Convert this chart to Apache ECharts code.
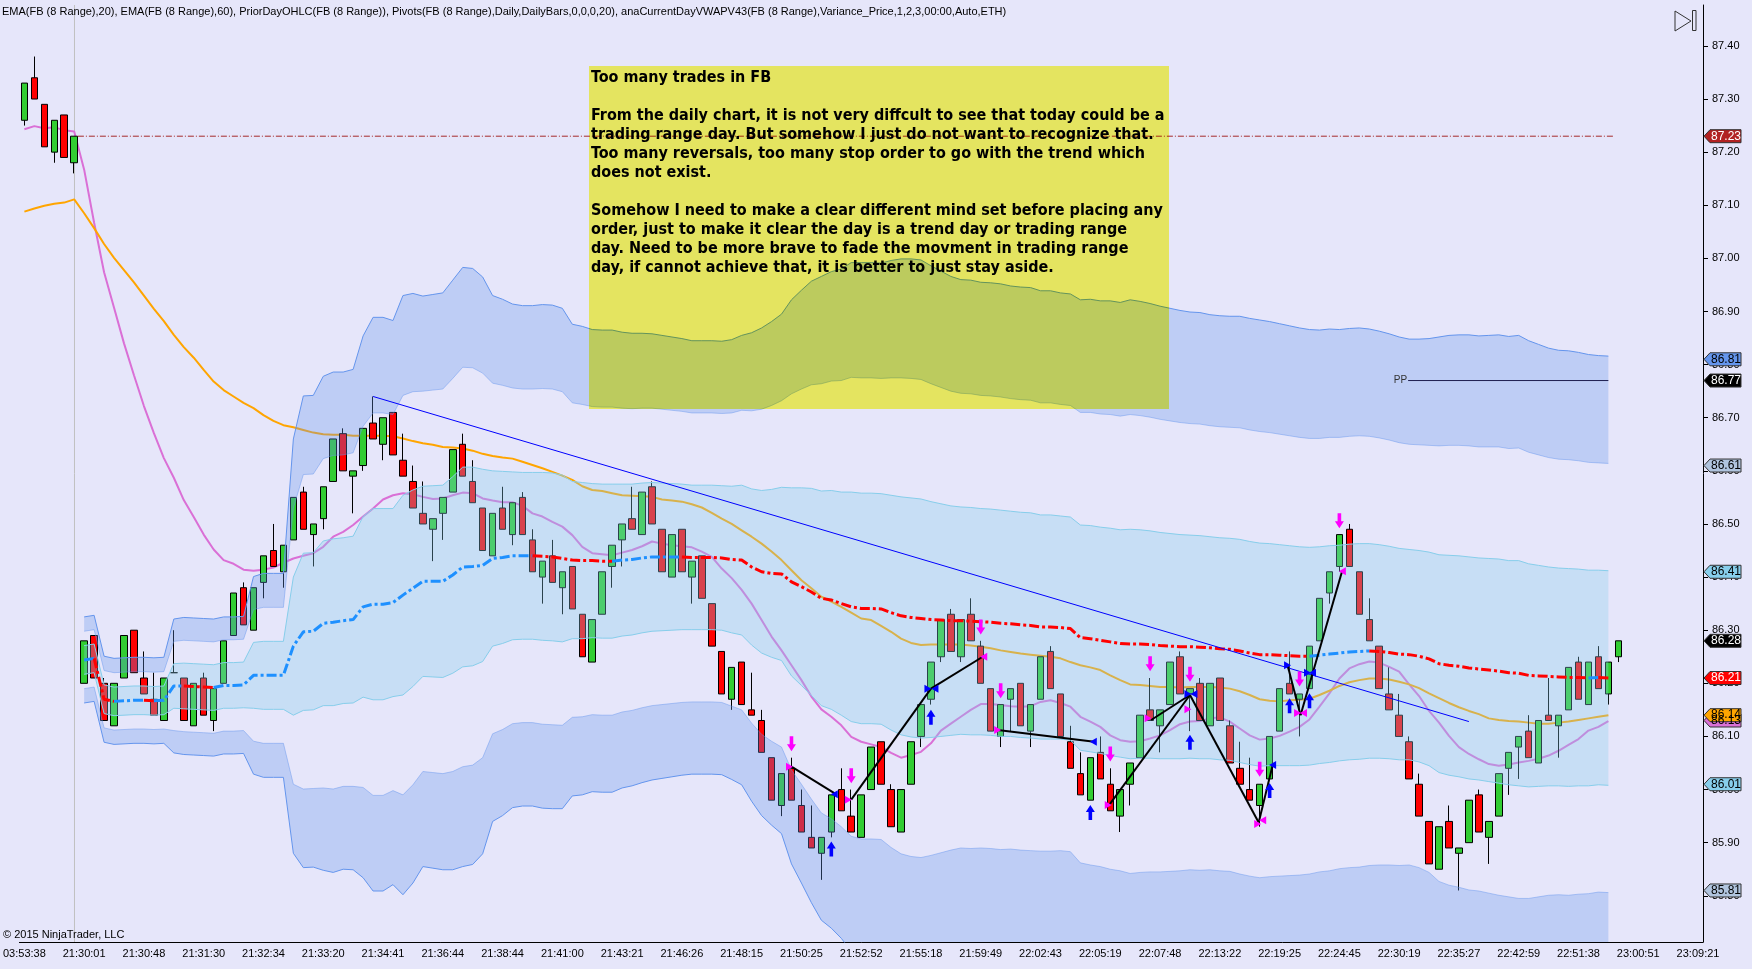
<!DOCTYPE html>
<html>
<head>
<meta charset="UTF-8">
<title>FB (8 Range)</title>
<style>
  html, body { margin: 0; padding: 0; background: #E6E6FA; }
  #chart { width: 1752px; height: 969px; }
</style>
</head>
<body>
<div id="chart"></div>
<script src="https://cdn.jsdelivr.net/npm/echarts@6/dist/echarts.min.js"></script>
<script>
// one row per 8-range bar: open, close, low, high
var ohlc = [
  [87.26,87.33,87.25,87.33],[87.34,87.30,87.30,87.38],[87.29,87.21,87.21,87.29],[87.20,87.26,87.18,87.26],
  [87.27,87.19,87.19,87.27],[87.18,87.23,87.16,87.23],[86.20,86.28,86.20,86.28],[86.29,86.21,86.21,86.29],
  [86.20,86.13,86.13,86.21],[86.12,86.20,86.12,86.20],[86.21,86.29,86.21,86.29],[86.30,86.22,86.22,86.30],
  [86.21,86.18,86.18,86.26],[86.17,86.14,86.14,86.22],[86.13,86.21,86.13,86.21],[86.22,86.22,86.22,86.30],
  [86.21,86.13,86.13,86.21],[86.12,86.20,86.12,86.20],[86.21,86.14,86.14,86.22],[86.13,86.19,86.11,86.19],
  [86.20,86.28,86.20,86.28],[86.29,86.37,86.29,86.37],[86.38,86.31,86.31,86.39],[86.30,86.38,86.30,86.38],
  [86.39,86.44,86.36,86.44],[86.45,86.42,86.42,86.50],[86.41,86.46,86.38,86.46],[86.47,86.55,86.47,86.55],
  [86.56,86.49,86.49,86.57],[86.48,86.50,86.42,86.50],[86.51,86.57,86.49,86.57],[86.58,86.66,86.58,86.66],
  [86.67,86.60,86.60,86.68],[86.59,86.60,86.52,86.60],[86.61,86.68,86.60,86.68],[86.69,86.66,86.66,86.74],
  [86.65,86.70,86.62,86.70],[86.71,86.63,86.63,86.71],[86.62,86.59,86.59,86.67],[86.58,86.53,86.53,86.61],
  [86.52,86.50,86.50,86.58],[86.49,86.51,86.43,86.51],[86.52,86.55,86.47,86.55],[86.56,86.64,86.56,86.64],
  [86.65,86.59,86.59,86.67],[86.58,86.54,86.54,86.62],[86.53,86.45,86.45,86.53],[86.44,86.52,86.44,86.52],
  [86.53,86.49,86.49,86.57],[86.48,86.54,86.46,86.54],[86.55,86.48,86.48,86.56],[86.47,86.41,86.41,86.49],
  [86.40,86.43,86.35,86.43],[86.44,86.39,86.39,86.47],[86.38,86.41,86.33,86.41],[86.42,86.34,86.34,86.42],
  [86.33,86.25,86.25,86.33],[86.24,86.32,86.24,86.32],[86.33,86.41,86.33,86.41],[86.42,86.46,86.38,86.46],
  [86.47,86.50,86.42,86.50],[86.51,86.49,86.49,86.57],[86.48,86.56,86.48,86.56],[86.57,86.50,86.50,86.58],
  [86.49,86.41,86.41,86.49],[86.40,86.48,86.40,86.48],[86.49,86.41,86.41,86.49],[86.40,86.43,86.35,86.43],
  [86.44,86.36,86.36,86.44],[86.35,86.27,86.27,86.35],[86.26,86.18,86.18,86.26],[86.17,86.23,86.15,86.23],
  [86.24,86.16,86.16,86.24],[86.15,86.14,86.14,86.22],[86.13,86.07,86.07,86.15],[86.06,85.98,85.98,86.06],
  [85.97,86.03,85.95,86.03],[86.04,85.98,85.98,86.06],[85.97,85.92,85.92,86.00],[85.91,85.89,85.89,85.97],
  [85.88,85.91,85.83,85.91],[85.92,85.99,85.91,85.99],[86.00,85.96,85.96,86.04],[85.95,85.92,85.92,86.00],
  [85.91,85.99,85.91,85.99],[86.00,86.08,86.00,86.08],[86.09,86.01,86.01,86.09],[86.00,85.93,85.93,86.01],
  [85.92,86.00,85.92,86.00],[86.01,86.09,86.01,86.09],[86.10,86.16,86.08,86.16],[86.17,86.24,86.16,86.24],
  [86.25,86.32,86.24,86.32],[86.33,86.26,86.26,86.34],[86.25,86.32,86.24,86.32],[86.33,86.28,86.28,86.36],
  [86.27,86.20,86.20,86.28],[86.19,86.11,86.11,86.19],[86.10,86.16,86.08,86.16],[86.17,86.19,86.11,86.19],
  [86.20,86.12,86.12,86.20],[86.11,86.16,86.08,86.16],[86.17,86.25,86.17,86.25],[86.26,86.19,86.19,86.27],
  [86.18,86.10,86.10,86.18],[86.09,86.04,86.04,86.12],[86.03,85.99,85.99,86.07],[85.98,86.06,85.98,86.06],
  [86.07,86.02,86.02,86.10],[86.01,85.96,85.96,86.04],[85.95,86.00,85.92,86.00],[86.01,86.05,85.97,86.05],
  [86.06,86.14,86.06,86.14],[86.15,86.13,86.13,86.21],[86.12,86.15,86.07,86.15],[86.16,86.24,86.16,86.24],
  [86.25,86.18,86.18,86.26],[86.18,86.19,86.11,86.19],[86.20,86.13,86.13,86.21],[86.12,86.20,86.12,86.20],
  [86.21,86.13,86.13,86.21],[86.12,86.05,86.05,86.13],[86.04,86.01,86.01,86.09],[86.00,85.98,85.98,86.06],
  [85.97,86.01,85.93,86.01],[86.02,86.10,86.02,86.10],[86.11,86.19,86.11,86.19],[86.20,86.18,86.18,86.26],
  [86.17,86.18,86.10,86.18],[86.19,86.27,86.19,86.27],[86.28,86.36,86.28,86.36],[86.37,86.41,86.35,86.41],
  [86.42,86.48,86.41,86.48],[86.49,86.42,86.42,86.50],[86.41,86.33,86.33,86.41],[86.32,86.28,86.28,86.36],
  [86.27,86.19,86.19,86.27],[86.18,86.15,86.15,86.23],[86.14,86.10,86.10,86.18],[86.09,86.02,86.02,86.10],
  [86.01,85.95,85.95,86.03],[85.94,85.86,85.86,85.94],[85.85,85.93,85.85,85.93],[85.94,85.89,85.89,85.97],
  [85.88,85.89,85.81,85.89],[85.90,85.98,85.90,85.98],[85.99,85.92,85.92,86.00],[85.91,85.94,85.86,85.94],
  [85.95,86.03,85.95,86.03],[86.04,86.07,85.99,86.07],[86.08,86.10,86.02,86.10],[86.11,86.06,86.06,86.14],
  [86.05,86.13,86.05,86.13],[86.14,86.13,86.13,86.21],[86.12,86.14,86.06,86.14],[86.15,86.23,86.15,86.23],
  [86.24,86.17,86.17,86.25],[86.16,86.24,86.16,86.24],[86.25,86.19,86.19,86.27],[86.18,86.24,86.16,86.24],
  [86.25,86.28,86.24,86.28]
];

var ema20 = [
  87.243,87.249,87.245,87.247,87.241,87.239,87.167,87.067,86.974,86.907,86.840,86.780,86.722,86.671,86.624,86.587,
  86.545,86.513,86.480,86.452,86.432,86.425,86.414,86.412,86.414,86.418,86.427,86.435,86.440,86.445,86.457,86.476,
  86.485,86.498,86.514,86.529,86.546,86.554,86.558,86.556,86.551,86.547,86.548,86.554,86.559,86.558,86.548,86.544,
  86.541,86.541,86.534,86.520,86.514,86.504,86.495,86.479,86.457,86.445,86.443,86.441,86.446,86.451,86.458,86.467,
  86.463,86.460,86.458,86.456,86.448,86.438,86.416,86.398,86.376,86.350,86.319,86.288,86.262,86.234,86.206,86.175,
  86.151,86.137,86.121,86.099,86.090,86.085,86.080,86.069,86.060,86.065,86.071,86.087,86.111,86.124,86.137,86.150,
  86.161,86.161,86.159,86.157,86.156,86.157,86.165,86.168,86.163,86.156,86.137,86.128,86.118,86.102,86.093,86.090,
  86.091,86.096,86.102,86.112,86.123,86.128,86.129,86.134,86.136,86.128,86.115,86.102,86.094,86.096,86.101,86.109,
  86.118,86.132,86.156,86.181,86.209,86.228,86.236,86.241,86.239,86.231,86.222,86.198,86.176,86.148,86.126,86.101,
  86.080,86.067,86.057,86.048,86.045,86.047,86.051,86.054,86.058,86.064,86.073,86.084,86.095,86.111,86.118,86.129
];

var ema60 = [
  87.088,87.094,87.099,87.103,87.105,87.111,87.085,87.057,87.027,87.001,86.978,86.955,86.930,86.905,86.882,86.856,
  86.833,86.813,86.790,86.768,86.752,86.740,86.728,86.718,86.705,86.694,86.686,86.682,86.677,86.672,86.669,86.668,
  86.668,86.666,86.666,86.666,86.666,86.665,86.661,86.656,86.652,86.649,86.645,86.644,86.642,86.638,86.632,86.628,
  86.625,86.623,86.617,86.611,86.605,86.598,86.591,86.583,86.571,86.564,86.562,86.558,86.554,86.553,86.552,86.551,
  86.546,86.544,86.542,86.537,86.531,86.521,86.510,86.500,86.488,86.476,86.463,86.448,86.432,86.413,86.394,86.379,
  86.363,86.354,86.344,86.333,86.322,86.319,86.308,86.297,86.284,86.276,86.272,86.273,86.273,86.273,86.273,86.271,
  86.269,86.266,86.262,86.259,86.256,86.254,86.252,86.250,86.247,86.240,86.234,86.230,86.225,86.215,86.206,86.198,
  86.197,86.195,86.193,86.193,86.192,86.193,86.193,86.193,86.192,86.190,86.185,86.178,86.170,86.167,86.166,86.168,
  86.169,86.171,86.178,86.186,86.195,86.202,86.206,86.209,86.209,86.207,86.203,86.198,86.191,86.181,86.172,86.163,
  86.155,86.148,86.142,86.134,86.131,86.129,86.128,86.126,86.124,86.124,86.126,86.128,86.131,86.134,86.137,86.140
];

// session VWAP and its standard deviation, from bar 6 on
var vwapStart = 6;
var vwap = [
  86.244,86.247,86.170,86.166,86.167,86.168,86.168,86.167,86.168,86.195,86.195,86.194,86.193,86.192,86.196,86.196,
  86.197,86.215,86.215,86.215,86.215,86.270,86.297,86.298,86.313,86.315,86.318,86.320,86.344,86.349,86.349,86.352,
  86.366,86.379,86.392,86.392,86.392,86.404,86.419,86.420,86.422,86.435,86.437,86.440,86.440,86.440,86.439,86.438,
  86.435,86.432,86.431,86.431,86.430,86.430,86.432,86.433,86.436,86.438,86.438,86.438,86.438,86.437,86.437,86.437,
  86.436,86.433,86.432,86.419,86.410,86.407,86.406,86.391,86.382,86.372,86.360,86.357,86.350,86.344,86.341,86.341,
  86.340,86.333,86.327,86.324,86.322,86.320,86.319,86.318,86.318,86.317,86.316,86.315,86.313,86.312,86.310,86.309,
  86.306,86.306,86.305,86.303,86.286,86.284,86.281,86.278,86.275,86.274,86.274,86.273,86.271,86.270,86.269,86.269,
  86.268,86.267,86.265,86.264,86.261,86.257,86.254,86.254,86.253,86.252,86.251,86.251,86.253,86.255,86.257,86.259,
  86.260,86.261,86.260,86.258,86.255,86.254,86.251,86.246,86.237,86.234,86.232,86.229,86.227,86.225,86.223,86.220,
  86.219,86.215,86.214,86.213,86.212,86.211,86.211,86.210,86.211,86.210
];
var vwapSd = [
  0.027,0.027,0.027,0.027,0.027,0.027,0.027,0.027,0.027,0.042,0.043,0.043,0.043,0.043,0.043,0.043,
  0.043,0.062,0.064,0.064,0.064,0.130,0.148,0.148,0.155,0.157,0.156,0.157,0.170,0.180,0.180,0.177,
  0.188,0.185,0.179,0.180,0.181,0.185,0.188,0.187,0.181,0.165,0.162,0.158,0.157,0.157,0.158,0.158,
  0.157,0.148,0.147,0.145,0.145,0.145,0.143,0.142,0.141,0.140,0.139,0.138,0.137,0.136,0.136,0.136,
  0.136,0.138,0.141,0.147,0.153,0.158,0.163,0.177,0.186,0.195,0.202,0.206,0.210,0.216,0.217,0.217,
  0.217,0.221,0.224,0.225,0.225,0.222,0.219,0.216,0.214,0.214,0.213,0.213,0.213,0.212,0.212,0.212,
  0.211,0.211,0.210,0.210,0.212,0.213,0.213,0.214,0.214,0.216,0.215,0.214,0.213,0.212,0.211,0.210,
  0.210,0.209,0.209,0.209,0.210,0.210,0.210,0.209,0.208,0.207,0.206,0.205,0.204,0.204,0.203,0.203,
  0.203,0.202,0.201,0.200,0.199,0.198,0.199,0.201,0.205,0.207,0.208,0.209,0.209,0.210,0.211,0.211,
  0.212,0.210,0.208,0.206,0.205,0.205,0.204,0.203,0.202,0.202
];

var timeLabels = [
  '03:53:38','21:30:01','21:30:48','21:31:30','21:32:34','21:33:20','21:34:41','21:36:44','21:38:44','21:41:00',
  '21:43:21','21:46:26','21:48:15','21:50:25','21:52:52','21:55:18','21:59:49','22:02:43','22:05:19','22:07:48',
  '22:13:22','22:19:25','22:24:45','22:30:19','22:35:27','22:42:59','22:51:38','23:00:51','23:09:21'
];
var yTicks = [85.80,85.90,86.00,86.10,86.20,86.30,86.40,86.50,86.60,86.70,86.80,86.90,87.00,87.10,87.20,87.30,87.40];

var priorClose = 87.23;
var pivotPP = 86.77;
var sessionBreak = 5.03;
var trendLine = [[35.0, 86.740], [145.0, 86.128]];
var trades = [
  [[77.0,86.043],[81.5,85.991]], [[83.0,85.981],[91.0,86.190]], [[91.0,86.190],[96.2,86.250]],
  [[97.7,86.112],[107.4,86.090]], [[108.9,85.971],[117.0,86.178]], [[113.1,86.131],[117.0,86.178]],
  [[117.0,86.178],[123.9,85.938]], [[123.9,85.938],[125.3,86.046]], [[126.8,86.234],[128.1,86.140]],
  [[128.1,86.140],[132.3,86.413]]
];
var sellArrows = [[77,86.086],[83,86.026],[96,86.306],[98,86.186],[109,86.067],[113,86.237],[117,86.217],[124,86.038],[128,86.208],[132,86.506]];
var buyArrows = [[81,85.888],[91,86.136],[107,85.957],[117,86.089],[125,85.998],[127,86.158],[129,86.167]];
var sellFillsR = [[76.8,86.043],[82.7,85.981],[97.7,86.112],[108.8,85.971],[112.8,86.134],[116.8,86.151],[123.8,85.935],[127.8,86.144]];
var sellFillsL = [[96.3,86.250],[124.3,85.942],[128.4,86.144],[132.3,86.411]];
var buyFillsR = [[90.7,86.190],[116.8,86.180],[126.8,86.234],[128.8,86.220]];
var buyFillsL = [[81.3,85.991],[91.4,86.190],[107.3,86.090],[117.4,86.180],[125.3,86.046],[129.3,86.220]];

var flagValues = [87.23, 86.81, 86.77, 86.61, 86.41, 86.28, 86.21, 86.13, 86.14, 86.01, 85.81];
var flagFill = ['#B22222','#6495ED','#000000','#B0C4DE','#87CEEB','#000000','#FF0000','#DA70D6','#FFA500','#87CEEB','#B0C4DE'];
var flagInk = ['#fff','#000','#fff','#000','#000','#fff','#fff','#000','#000','#000','#000'];

var titleText = 'EMA(FB (8 Range),20), EMA(FB (8 Range),60), PriorDayOHLC(FB (8 Range)), Pivots(FB (8 Range),Daily,DailyBars,0,0,0,20), anaCurrentDayVWAPV43(FB (8 Range),Variance_Price,1,2,3,00:00,Auto,ETH)';
var noteLines = [
  'Too many trades in FB',
  '',
  'From the daily chart, it is not very diffcult to see that today could be a',
  'trading range day. But somehow I just do not want to recognize that.',
  'Too many reversals, too many stop order to go with the trend which',
  'does not exist.',
  '',
  'Somehow I need to make a clear different mind set before placing any',
  'order, just to make it clear the day is a trend day or trading range',
  'day. Need to be more brave to fade the movment in trading range',
  'day, if cannot achieve that, it is better to just stay aside.'
];

var Y_MIN = 85.713, Y_MAX = 87.477, N_SLOTS = 169;
var FONT = '"Liberation Sans", Arial, sans-serif';

var cats = [];
for (var i = 0; i < N_SLOTS; i++) cats.push(String(i));

function pts(arr, start) {
  return arr.map(function (v, j) { return [j + start, v]; });
}
function plainLine(data, color, width, type, z) {
  return {
    type: 'line', xAxisIndex: 1, data: data, symbol: 'none', silent: true, z: z || 5,
    lineStyle: { color: color, width: width, type: type || 'solid' }
  };
}

var series = [];

series.push({
  type: 'candlestick', xAxisIndex: 0, barWidth: 7, z: 2, silent: true,
  data: ohlc,
  itemStyle: { color: '#32CD32', color0: '#FF0000', borderColor: '#000', borderColor0: '#000', borderWidth: 1 }
});
series.push(plainLine(pts(ema20, 0), '#DA70D6', 2, 'solid', 2));
series.push(plainLine(pts(ema60, 0), '#FFA500', 2, 'solid', 2));

// deviation bands around vwap, k = multiple of sd
function edge(k) {
  return vwap.map(function (v, j) { return [j + vwapStart, +(v + k * vwapSd[j]).toFixed(4)]; });
}
function band(lowK, highK, fill) {
  var lo = edge(lowK), hi = edge(highK);
  series.push({
    type: 'custom', xAxisIndex: 1, silent: true, z: 3, clip: true,
    data: [[vwapStart, vwap[0]]],
    renderItem: function (params, api) {
      var p = [];
      hi.forEach(function (d) { p.push(api.coord(d)); });
      for (var q = lo.length - 1; q >= 0; q--) p.push(api.coord(lo[q]));
      return { type: 'polygon', shape: { points: p }, style: { fill: fill } };
    }
  });
}
band(-3, -2, 'rgba(100,149,237,0.31)');
band(-1, 1, 'rgba(135,206,235,0.32)');
band(2, 3, 'rgba(100,149,237,0.31)');
series.push(plainLine(edge(3), '#6495ED', 1, 'solid', 3));
series.push(plainLine(edge(2), 'rgba(100,149,237,0.45)', 1, 'solid', 3));
series.push(plainLine(edge(1), '#87CEEB', 1, 'solid', 3));
series.push(plainLine(edge(-1), '#87CEEB', 1, 'solid', 3));
series.push(plainLine(edge(-2), 'rgba(100,149,237,0.45)', 1, 'solid', 3));
series.push(plainLine(edge(-3), '#6495ED', 1, 'solid', 3));

// vwap: blue while rising, red while falling
var segColor = [], last = '#1E90FF';
for (var j = 0; j < vwap.length - 1; j++) {
  if (vwap[j + 1] > vwap[j]) last = '#1E90FF';
  else if (vwap[j + 1] < vwap[j]) last = '#FF0000';
  segColor.push(last);
}
var runStart = 0;
for (var j = 1; j <= segColor.length; j++) {
  if (j === segColor.length || segColor[j] !== segColor[runStart]) {
    var d = [];
    for (var k = runStart; k <= j; k++) d.push([k + vwapStart, vwap[k]]);
    series.push(plainLine(d, segColor[runStart], 3, [10, 3, 3, 3], 4));
    runStart = j;
  }
}

series.push(plainLine([[5.37, priorClose], [159.5, priorClose]], '#A52A2A', 1, [6, 2, 1, 2], 4));
series.push(plainLine([[138.9, pivotPP], [159, pivotPP]], '#1E1E50', 1, 'solid', 4));
series.push(plainLine([[sessionBreak, Y_MIN], [sessionBreak, Y_MAX]], '#C0C0C0', 1, 'solid', 1));
series.push(plainLine(trendLine, '#0000FF', 1, 'solid', 5));
trades.forEach(function (t) { series.push(plainLine(t, '#000000', 2, 'solid', 6)); });

var downArrow = 'path://M3,0L7,0L7,8L10,8L5,15L0,8L3,8Z';
var upArrow = 'path://M5,0L10,7L7,7L7,15L3,15L3,7L0,7Z';
function marks(data, symbol, size, color, rotate) {
  return { type: 'scatter', xAxisIndex: 1, data: data, symbol: symbol, symbolSize: size,
    symbolRotate: rotate || 0, silent: true, z: 7, itemStyle: { color: color, opacity: 1 } };
}
series.push(marks(sellArrows, downArrow, [9, 15], '#FF00FF'));
series.push(marks(buyArrows, upArrow, [9, 15], '#0000FF'));
series.push(marks(sellFillsR, 'triangle', [8, 7], '#FF00FF', -90));
series.push(marks(sellFillsL, 'triangle', [8, 7], '#FF00FF', 90));
series.push(marks(buyFillsR, 'triangle', [8, 7], '#0000FF', -90));
series.push(marks(buyFillsL, 'triangle', [8, 7], '#0000FF', 90));

var chart = echarts.init(document.getElementById('chart'), null, { renderer: 'canvas' });
chart.setOption({
  backgroundColor: '#E6E6FA',
  animation: false,
  grid: { left: 13, right: 49, top: 5, bottom: 27 },
  xAxis: [{
    type: 'category', data: cats, boundaryGap: true,
    axisLine: { onZero: false, lineStyle: { color: '#000', width: 1 } },
    axisTick: { interval: 5, alignWithLabel: true, length: 5, lineStyle: { color: '#000' } },
    axisLabel: {
      interval: 5, color: '#000', fontSize: 11, fontFamily: FONT, margin: 6,
      alignMinLabel: 'center', alignMaxLabel: 'center',
      formatter: function (v, idx) { return timeLabels[idx / 6] || ''; }
    },
    splitLine: { show: false }
  }, {
    type: 'value', min: -0.5, max: N_SLOTS - 0.5, show: false,
    axisLine: { onZero: false }
  }],
  yAxis: {
    type: 'value', position: 'right', min: Y_MIN, max: Y_MAX,
    axisLine: { show: true, onZero: false, lineStyle: { color: '#000', width: 1 } },
    axisTick: { show: true, length: 5, customValues: yTicks, lineStyle: { color: '#000' } },
    axisLabel: {
      customValues: yTicks, color: '#000', fontSize: 11, fontFamily: FONT, margin: 9,
      formatter: function (v) { return v.toFixed(2); }
    },
    splitLine: { show: false }
  },
  series: series
});

// overlay: price flags, notes, labels
var g = [];
var axisX = chart.convertToPixel({ xAxisIndex: 1 }, N_SLOTS - 0.5);
flagValues.forEach(function (v, n) {
  var y = chart.convertToPixel({ yAxisIndex: 0 }, v);
  var x0 = axisX + 1;
  g.push({
    type: 'polygon', z: 20, silent: true,
    shape: { points: [[x0, y], [x0 + 6, y - 6.5], [x0 + 37, y - 6.5], [x0 + 37, y + 6.5], [x0 + 6, y + 6.5]] },
    style: { fill: flagFill[n], stroke: '#333', lineWidth: 1 }
  });
  g.push({
    type: 'text', z: 21, silent: true, x: x0 + 22, y: y,
    style: { text: v.toFixed(2), fill: flagInk[n], font: '12px ' + FONT, align: 'center', verticalAlign: 'middle' }
  });
});
var ppPos = chart.convertToPixel({ xAxisIndex: 1, yAxisIndex: 0 }, [138.9, pivotPP]);
g.push({ type: 'text', z: 8, silent: true, x: ppPos[0] - 1, y: ppPos[1],
  style: { text: 'PP', fill: '#333', font: '10px ' + FONT, align: 'right', verticalAlign: 'middle' } });

g.push({ type: 'rect', z: 10, silent: true, shape: { x: 589, y: 66, width: 580, height: 343 },
  style: { fill: 'rgb(253,253,98)', blend: 'multiply' } });
g.push({ type: 'text', z: 11, silent: true, x: 591, y: 68.5,
  style: { text: noteLines.join('\n'), fill: '#000', font: 'bold 16px "DejaVu Sans Condensed", "DejaVu Sans", sans-serif',
    lineHeight: 19, verticalAlign: 'top' } });

g.push({ type: 'text', z: 12, silent: true, x: 2, y: 12,
  style: { text: titleText, fill: '#000', font: '11px ' + FONT, verticalAlign: 'middle' } });
g.push({ type: 'text', z: 12, silent: true, x: 3, y: 935,
  style: { text: '\u00A9 2015 NinjaTrader, LLC', fill: '#000', font: '11px ' + FONT, verticalAlign: 'middle' } });

// end-of-chart button
g.push({ type: 'polygon', z: 12, silent: true, shape: { points: [[1675, 11], [1691, 21], [1675, 31]] },
  style: { fill: 'none', stroke: '#333', lineWidth: 1 } });
g.push({ type: 'rect', z: 12, silent: true, shape: { x: 1692.5, y: 10.5, width: 3.5, height: 20 },
  style: { fill: 'none', stroke: '#333', lineWidth: 1 } });

chart.setOption({ graphic: g });
</script>
</body>
</html>
